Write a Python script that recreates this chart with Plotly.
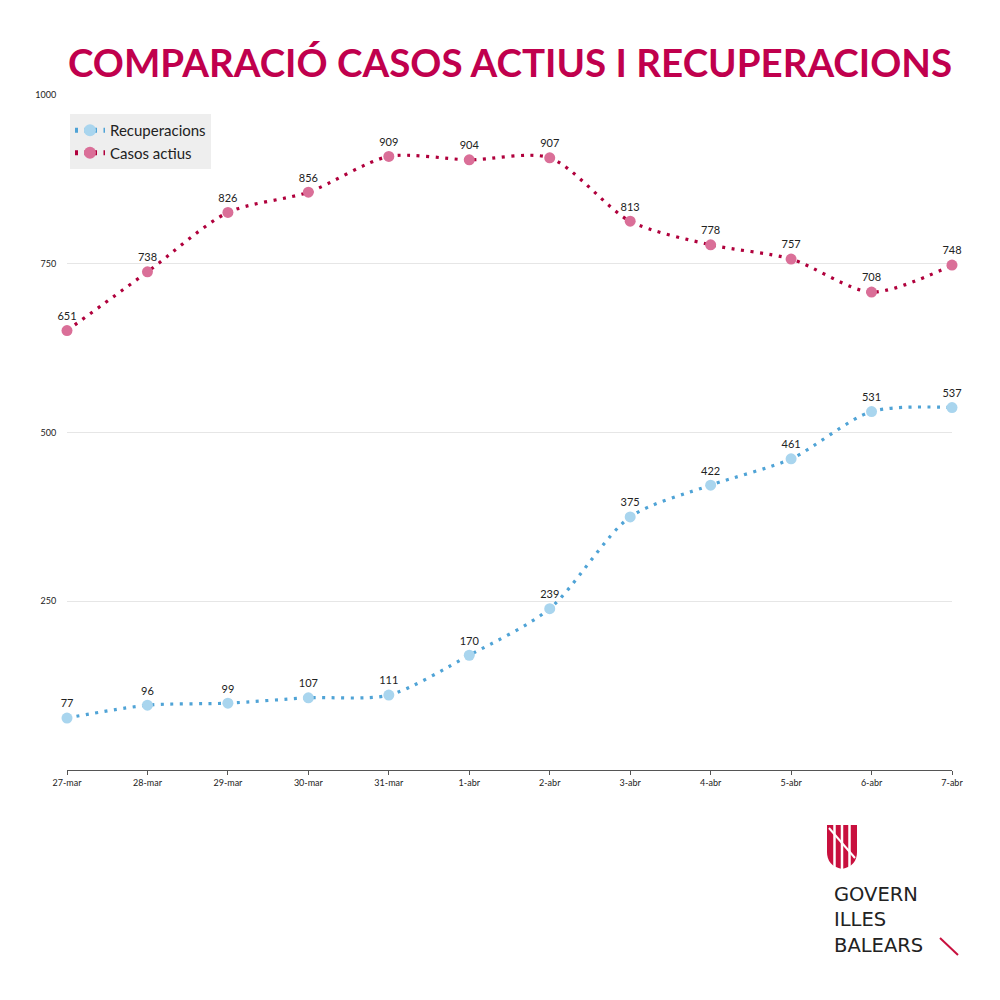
import plotly.graph_objects as go

dates = ["27-mar", "28-mar", "29-mar", "30-mar", "31-mar", "1-abr", "2-abr",
         "3-abr", "4-abr", "5-abr", "6-abr", "7-abr"]
recuperacions = [77, 96, 99, 107, 111, 170, 239, 375, 422, 461, 531, 537]
casos_actius = [651, 738, 826, 856, 909, 904, 907, 813, 778, 757, 708, 748]
y_ticks = [250, 500, 750, 1000]

TITLE_COLOR = "#c0004d"
PINK_LINE = "#b0003c"
PINK_MARK = "#da6f98"
BLUE_LINE = "#4fa3d6"
BLUE_MARK = "#a9d5ee"
LOGO_RED = "#c8103e"

L, R, T, B = 67, 952, 95, 770


def px(x):
    return (x - L) / (R - L)


def py(y):
    return (B - y) / (B - T)


fig = go.Figure()
fig.add_trace(go.Scatter(
    x=dates, y=recuperacions, name="Recuperacions", mode="lines+markers+text",
    line=dict(color=BLUE_LINE, width=3.2, dash="3px,6.5px", shape="spline", smoothing=0.8),
    marker=dict(color=BLUE_MARK, size=11),
    text=[str(v) for v in recuperacions], textposition="top center",
    textfont=dict(size=11, color="#222222", family="Lato, sans-serif"),
    cliponaxis=False,
))
fig.add_trace(go.Scatter(
    x=dates, y=casos_actius, name="Casos actius", mode="lines+markers+text",
    line=dict(color=PINK_LINE, width=3.2, dash="3px,6.5px", shape="spline", smoothing=0.8),
    marker=dict(color=PINK_MARK, size=11),
    text=[str(v) for v in casos_actius], textposition="top center",
    textfont=dict(size=11, color="#222222", family="Lato, sans-serif"),
    cliponaxis=False,
))

shapes = []
# Logo shield
shield = (f"M {px(827)} {py(825)} L {px(857)} {py(825)} L {px(857)} {py(852)} "
          f"Q {px(857)} {py(866)} {px(842)} {py(869)} Q {px(827)} {py(866)} {px(827)} {py(852)} Z")
shapes.append(dict(type="path", xref="paper", yref="paper", path=shield,
                   fillcolor=LOGO_RED, line=dict(width=0), layer="above"))
for xs in [834.5, 842, 849.5]:
    shapes.append(dict(type="line", xref="paper", yref="paper", x0=px(xs), x1=px(xs),
                       y0=py(824), y1=py(870), line=dict(color="white", width=2.5), layer="above"))
shapes.append(dict(type="line", xref="paper", yref="paper", x0=px(829), x1=px(855),
                   y0=py(828), y1=py(858), line=dict(color="white", width=2), layer="above"))
shapes.append(dict(type="line", xref="paper", yref="paper", x0=px(940), x1=px(958),
                   y0=py(938), y1=py(955), line=dict(color=LOGO_RED, width=2), layer="above"))

annotations = [
    dict(text="COMPARACIÓ CASOS ACTIUS I RECUPERACIONS", xref="paper", yref="paper",
         x=px(510), y=py(62), xanchor="center", yanchor="middle", showarrow=False,
         font=dict(size=38.5, color=TITLE_COLOR, family="Lato, sans-serif", weight=700)),
    dict(text="GOVERN<br>ILLES<br>BALEARS", xref="paper", yref="paper",
         x=px(832), y=py(920), xanchor="left", yanchor="middle", align="left",
         showarrow=False,
         font=dict(size=19.5, color="#222222", family="DejaVu Sans, sans-serif")),
]

fig.update_layout(
    width=1000, height=1000,
    paper_bgcolor="white", plot_bgcolor="white",
    margin=dict(l=L, r=1000 - R, t=T, b=1000 - B),
    font=dict(family="Lato, sans-serif", color="#222222"),
    showlegend=True,
    legend=dict(x=px(70), y=py(114), xanchor="left", yanchor="top", bgcolor="#eeeeee",
                font=dict(size=15, color="#222222"), tracegroupgap=0,
                itemsizing="constant", traceorder="normal"),
    xaxis=dict(type="category", showgrid=False, showline=True, linecolor="#555555", linewidth=1,
               ticks="outside", ticklen=4, tickcolor="#555555",
               tickfont=dict(size=9, color="#222222"), range=[0, 11], zeroline=False),
    yaxis=dict(range=[0, 1000], tickvals=y_ticks, showgrid=True, gridcolor="#e6e6e6",
               gridwidth=1, zeroline=False, showline=False, ticks="outside", ticklen=8,
               tickcolor="rgba(0,0,0,0)", tickfont=dict(size=9, color="#222222")),
    shapes=shapes, annotations=annotations,
)

fig.write_html("out.html")
